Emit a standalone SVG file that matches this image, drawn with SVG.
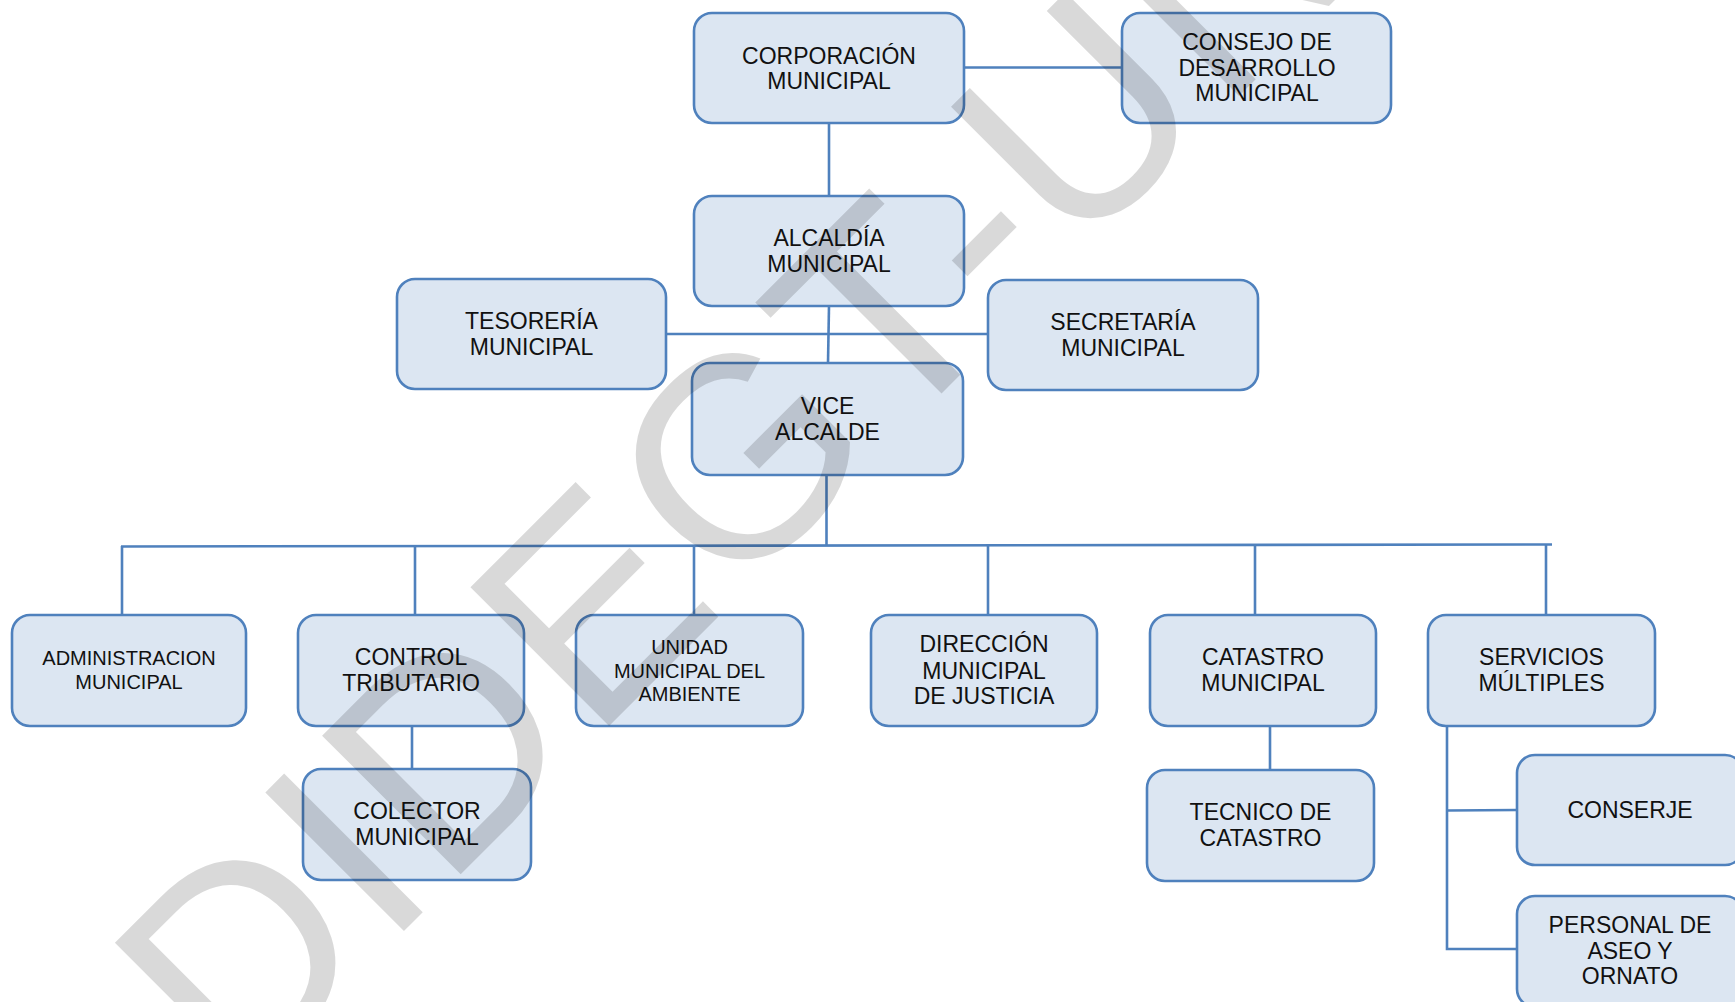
<svg xmlns="http://www.w3.org/2000/svg" width="1735" height="1002" viewBox="0 0 1735 1002">
<style>
.box{fill:#dce6f2;stroke:#4f81bd;stroke-width:2.6}
.t{font-family:"Liberation Sans",Arial,sans-serif;font-size:23px;fill:#111;text-anchor:middle}
.s{font-size:20px}
.c{stroke:#4f81bd;stroke-width:2.6;fill:none}
.wm{font-family:"Liberation Sans",Arial,sans-serif;font-size:285px;letter-spacing:4px;fill:#000;fill-opacity:0.15}
</style>
<rect width="1735" height="1002" fill="#fff"/>
<g id="connectors">
<line class="c" x1="964" y1="67.5" x2="1122" y2="67.5"/>
<line class="c" x1="829" y1="123" x2="829" y2="196"/>
<line class="c" x1="829" y1="306" x2="828" y2="363"/>
<line class="c" x1="666" y1="334" x2="988" y2="334"/>
<line class="c" x1="826.5" y1="475" x2="826.5" y2="546"/>
<line class="c" x1="121" y1="546.5" x2="1552" y2="544.5"/>
<line class="c" x1="122" y1="546" x2="122" y2="615"/>
<line class="c" x1="415" y1="546" x2="415" y2="615"/>
<line class="c" x1="694" y1="545.5" x2="694" y2="615"/>
<line class="c" x1="988" y1="545" x2="988" y2="615"/>
<line class="c" x1="1255" y1="545" x2="1255" y2="615"/>
<line class="c" x1="1546" y1="545" x2="1546" y2="615"/>
<line class="c" x1="412" y1="726" x2="412" y2="769"/>
<line class="c" x1="1270" y1="726" x2="1270" y2="770"/>
<polyline class="c" points="1447,726 1447,949 1517,949"/>
<line class="c" x1="1447" y1="810.5" x2="1517" y2="810"/>
</g>
<g id="corporacion">
<rect class="box" x="694" y="13" width="270" height="110" rx="18"/>
<text class="t" x="829" y="63.5">CORPORACIÓN</text>
<text class="t" x="829" y="89">MUNICIPAL</text>
</g>
<g id="consejo">
<rect class="box" x="1122" y="13" width="269" height="110" rx="18"/>
<text class="t" x="1257" y="50">CONSEJO DE</text>
<text class="t" x="1257" y="75.5">DESARROLLO</text>
<text class="t" x="1257" y="101">MUNICIPAL</text>
</g>
<g id="alcaldia">
<rect class="box" x="694" y="196" width="270" height="110" rx="18"/>
<text class="t" x="829" y="246">ALCALDÍA</text>
<text class="t" x="829" y="271.5">MUNICIPAL</text>
</g>
<g id="tesoreria">
<rect class="box" x="397" y="279" width="269" height="110" rx="18"/>
<text class="t" x="531.5" y="329">TESORERÍA</text>
<text class="t" x="531.5" y="354.5">MUNICIPAL</text>
</g>
<g id="secretaria">
<rect class="box" x="988" y="280" width="270" height="110" rx="18"/>
<text class="t" x="1123" y="330">SECRETARÍA</text>
<text class="t" x="1123" y="355.5">MUNICIPAL</text>
</g>
<g id="vicealcalde">
<rect class="box" x="692" y="363" width="271" height="112" rx="18"/>
<text class="t" x="827.5" y="414">VICE</text>
<text class="t" x="827.5" y="439.5">ALCALDE</text>
</g>
<g id="administracion">
<rect class="box" x="12" y="615" width="234" height="111" rx="18"/>
<text class="t s" x="129" y="665">ADMINISTRACION</text>
<text class="t s" x="129" y="688.5">MUNICIPAL</text>
</g>
<g id="controltributario">
<rect class="box" x="298" y="615" width="226" height="111" rx="18"/>
<text class="t" x="411" y="665">CONTROL</text>
<text class="t" x="411" y="690.5">TRIBUTARIO</text>
</g>
<g id="unidadambiente">
<rect class="box" x="576" y="615" width="227" height="111" rx="18"/>
<text class="t s" x="689.5" y="654">UNIDAD</text>
<text class="t s" x="689.5" y="677.5">MUNICIPAL DEL</text>
<text class="t s" x="689.5" y="701">AMBIENTE</text>
</g>
<g id="direccionjusticia">
<rect class="box" x="871" y="615" width="226" height="111" rx="18"/>
<text class="t" x="984" y="652">DIRECCIÓN</text>
<text class="t" x="984" y="678.5">MUNICIPAL</text>
<text class="t" x="984" y="704">DE JUSTICIA</text>
</g>
<g id="catastro">
<rect class="box" x="1150" y="615" width="226" height="111" rx="18"/>
<text class="t" x="1263" y="665">CATASTRO</text>
<text class="t" x="1263" y="690.5">MUNICIPAL</text>
</g>
<g id="servicios">
<rect class="box" x="1428" y="615" width="227" height="111" rx="18"/>
<text class="t" x="1541.5" y="665">SERVICIOS</text>
<text class="t" x="1541.5" y="690.5">MÚLTIPLES</text>
</g>
<g id="colector">
<rect class="box" x="303" y="769" width="228" height="111" rx="18"/>
<text class="t" x="417" y="819">COLECTOR</text>
<text class="t" x="417" y="845">MUNICIPAL</text>
</g>
<g id="tecnicocatastro">
<rect class="box" x="1147" y="770" width="227" height="111" rx="18"/>
<text class="t" x="1260.5" y="820">TECNICO DE</text>
<text class="t" x="1260.5" y="846">CATASTRO</text>
</g>
<g id="conserje">
<rect class="box" x="1517" y="755" width="226" height="110" rx="18"/>
<text class="t" x="1630" y="818">CONSERJE</text>
</g>
<g id="personalaseo">
<rect class="box" x="1517" y="896" width="226" height="111" rx="18"/>
<text class="t" x="1630" y="933">PERSONAL DE</text>
<text class="t" x="1630" y="958.5">ASEO Y</text>
<text class="t" x="1630" y="984">ORNATO</text>
</g>
<text class="wm" x="237" y="1098" transform="rotate(-45 237 1098)">DIDEGT-UN</text>
</svg>
